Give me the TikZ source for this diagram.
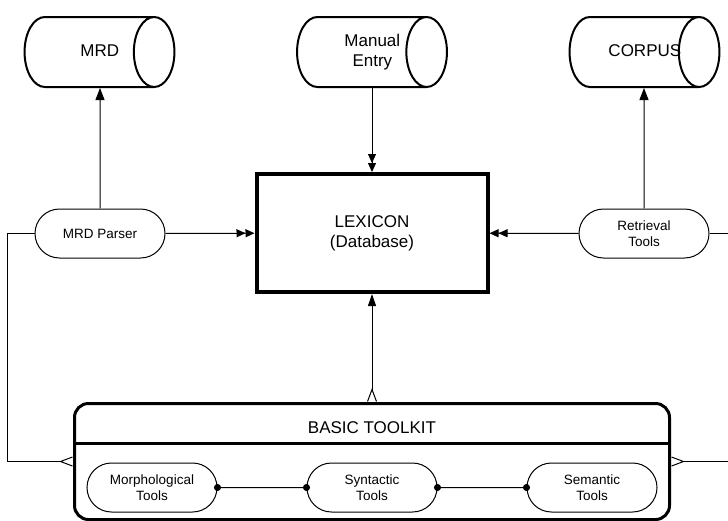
\documentclass[tikz,border=0pt]{standalone}
\usepackage{fontspec}
\setmainfont{Liberation Sans}
\usetikzlibrary{arrows.meta,shapes.geometric,shapes.misc}

\newcommand{\storetext}[1]{\parbox[c][70pt][c]{88pt}{\centering\hspace*{22pt}\makebox[0pt]{\begin{tabular}{@{}c@{}}#1\end{tabular}}}}

\begin{document}
\begin{tikzpicture}[x=1pt, y=-1pt, line width=1pt,
	every node/.style={font=\fontsize{13.5}{16.5}\selectfont, align=center, inner sep=0pt},
	store/.style={draw, cylinder, anchor=shape center, line width=2pt, aspect=0.58, minimum height=149pt, minimum width=70pt, font=\fontsize{17}{20}\selectfont},
	tool/.style={draw, rounded rectangle, minimum width=130pt, minimum height=49pt},
	single/.style={-{Triangle[length=12pt,width=9pt]}},
	double/.style={-{Triangle[length=9pt,width=8pt] Triangle[length=9pt,width=8pt]}},
	crow/.style={-{Straight Barb[reversed,length=12pt,width=9pt]}},
	dot/.style={{Circle[length=7pt]}-{Circle[length=7pt]}, shorten <=-3.5pt, shorten >=-3.5pt}]

	\clip (0,0) rectangle (728,520);

	% ============ DATA SOURCES ============

	\node[store] (mrd) at (99.5,52) {\storetext{MRD}};
	\node[store] (manual) at (372,52) {\storetext{Manual\\Entry}};
	\node[store] (corpus) at (644.5,52) {\storetext{CORPUS}};

	% Lexicon
	\node[draw, line width=4pt, minimum width=231pt, minimum height=118pt,
		font=\fontsize{17}{20}\selectfont] (lexicon) at (372,233) {LEXICON\\(Database)};

	% Parser and retrieval
	\node[tool] (parser) at (100,233.5) {MRD Parser};
	\node[tool] (retrieval) at (644,233.5) {Retrieval\\Tools};

	% ============ BASIC TOOLKIT ============

	\node[draw, line width=3pt, rounded corners=14pt, minimum width=595pt,
		minimum height=116pt] (kit) at (372,461.5) {};
	\node[font=\fontsize{17}{20}\selectfont] (kittitle) at (372,427.5) {BASIC TOOLKIT};
	\draw[line width=3pt] (kit.west |- 0,443) -- (kit.east |- 0,443);

	\foreach \n/\x/\t in {morph/152/Morphological, syn/372/Syntactic, sem/592/Semantic} {
		\node[tool] (\n) at (\x,487.5) {\t\\Tools};
	}
	\draw[dot] (morph) -- (syn);
	\draw[dot] (syn) -- (sem);

	% Connectors
	\draw[single] (parser) -- (parser |- mrd.south);
	\draw[single] (retrieval) -- (retrieval |- corpus.south);
	\draw[double] (manual.south -| lexicon.north) -- (lexicon.north);
	\draw[double] (parser) -- (lexicon);
	\draw[double] (retrieval) -- (lexicon);
	\draw[{Straight Barb[reversed,length=12pt,width=9pt]}-{Triangle[length=12pt,width=8pt]}] (kit) -- (lexicon);
	\draw[crow] (parser.west) -- ++(-27,0) |- (kit.west);
	\draw[crow] (retrieval.east) -- ++(25,0) |- (kit.east);

\end{tikzpicture}
\end{document}
